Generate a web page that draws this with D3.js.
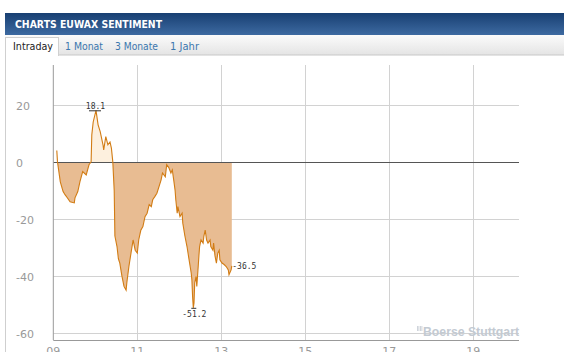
<!DOCTYPE html>
<html><head><meta charset="utf-8">
<script src="https://cdn.jsdelivr.net/npm/d3@7"></script>
<style>
html,body{margin:0;padding:0;background:#fff;overflow:hidden;}
svg{display:block;}
</style></head>
<body>
<svg id="c" width="564" height="352"></svg>
<script>
const title = "CHARTS EUWAX SENTIMENT";
const tabs = ["Intraday", "1 Monat", "3 Monate", "1 Jahr"];
const yTicks = [20, 0, -20, -40, -60];
const xTickLabels = ["09", "11", "13", "15", "17", "19"];
const times = ["09:05","09:06","09:10","09:14","09:17","09:20","09:24","09:30","09:31","09:35","09:38","09:42","09:47","09:51","09:54","09:55","09:57","10:01","10:04","10:07","10:11","10:12","10:15","10:18","10:21","10:23","10:25","10:27","10:28","10:31","10:33","10:35","10:38","10:41","10:44","10:45","10:48","10:51","10:54","10:57","11:00","11:02","11:05","11:08","11:11","11:14","11:17","11:20","11:22","11:25","11:28","11:31","11:34","11:36","11:40","11:42","11:45","11:48","11:50","11:52","11:54","11:55","11:57","11:58","12:01","12:04","12:05","12:08","12:11","12:14","12:17","12:18","12:19","12:20","12:21","12:22","12:24","12:25","12:27","12:28","12:29","12:31","12:34","12:35","12:37","12:39","12:41","12:44","12:45","12:48","12:49","12:51","12:53","12:55","12:57","12:58","13:01","13:04","13:07","13:10","13:11","13:14","13:15"];
const values = [4,0,-7,-10.4,-11.6,-12.6,-14,-14.4,-12.6,-10.4,-7,-3.4,-4.6,-1,0,9.5,14,18.1,13,10.6,6,4.2,8.9,6,7,4.8,0,-10,-26,-29.7,-34,-35.5,-40,-43.7,-45,-42.5,-36.7,-32,-27.4,-31,-32,-27.4,-24,-22.7,-19.2,-18,-15,-15.7,-13.3,-12.2,-11,-8.7,-6.3,-3.9,-5.2,-1,-2,-3.9,-2.8,-6.3,-10,-13.3,-18,-15.7,-19.2,-18,-21.5,-26,-29.7,-34.4,-39,-41.4,-47.3,-51.2,-49.5,-42.5,-40.2,-43.7,-36.7,-33,-29.7,-27.4,-28.5,-26.2,-23.9,-27.4,-28.5,-27.4,-29.7,-31,-28.5,-33,-35.5,-32,-31,-34.4,-35.5,-36,-36.7,-37.9,-39.6,-37.9,-36.5];
const annMax = 18.1, annMin = -51.2, annLast = -36.5;

const parse = d3.timeParse("%H:%M");
const data = times.map((t,i)=>({t:parse(t), v:values[i]}));

const svg = d3.select("#c");
const defs = svg.append("defs");
const g1 = defs.append("linearGradient").attr("id","hdr").attr("x1",0).attr("y1",0).attr("x2",0).attr("y2",1);
g1.append("stop").attr("offset","0").attr("stop-color","#183f72");
g1.append("stop").attr("offset","1").attr("stop-color","#3d6aa1");
const g2 = defs.append("linearGradient").attr("id","tab").attr("x1",0).attr("y1",0).attr("x2",0).attr("y2",1);
g2.append("stop").attr("offset","0").attr("stop-color","#fbfbfb");
g2.append("stop").attr("offset","1").attr("stop-color","#e4e4e4");

// header
svg.append("rect").attr("x",5).attr("y",13).attr("width",559).attr("height",22).attr("fill","url(#hdr)");
svg.append("text").attr("x",15).attr("y",28).attr("fill","#fff").attr("font-family","DejaVu Sans").attr("font-weight","bold")
  .attr("font-size",10).attr("textLength",147).attr("lengthAdjust","spacingAndGlyphs").text(title);
// tab bar
svg.append("rect").attr("x",5).attr("y",35).attr("width",559).attr("height",20).attr("fill","url(#tab)");
svg.append("line").attr("x1",5).attr("x2",564).attr("y1",55).attr("y2",55).attr("stroke","#c8c8c8");
svg.append("rect").attr("x",5.5).attr("y",37.5).attr("width",53).attr("height",18).attr("fill","#fff").attr("stroke","#d0d0d0");
svg.append("rect").attr("x",6).attr("y",54).attr("width",52).attr("height",3).attr("fill","#fff");
const tabX = [13, 65, 115, 170], tabW = [40, 38, 43, 29];
tabs.forEach((t,i)=>{
  svg.append("text").attr("x",tabX[i]).attr("y",50).attr("font-family","DejaVu Sans").attr("font-size",10)
    .attr("fill", i===0 ? "#222" : "#3b77ae").attr("textLength",tabW[i]).attr("lengthAdjust","spacingAndGlyphs").text(t);
});
svg.append("line").attr("x1",5.5).attr("x2",5.5).attr("y1",55).attr("y2",352).attr("stroke","#cfcfcf");

// scales
const L = 53.3, R = 519, T = 65, B = 340;
const x = d3.scaleTime().domain([parse("09:00"), parse("20:05")]).range([L, L + 42*11 + 3.5]);
const y = d3.scaleLinear().domain([-62.5, 34]).range([B, T]);

// grid
const hourTicks = xTickLabels.map(h=>parse(h+":00"));
svg.append("g").selectAll("line").data(hourTicks.slice(1)).join("line")
  .attr("x1",d=>Math.round(x(d))+0.5).attr("x2",d=>Math.round(x(d))+0.5).attr("y1",T).attr("y2",B)
  .attr("stroke","#d2d2d2");
svg.append("g").selectAll("line").data(yTicks.filter(v=>v!==0)).join("line")
  .attr("x1",L).attr("x2",R).attr("y1",d=>Math.round(y(d))+0.5).attr("y2",d=>Math.round(y(d))+0.5)
  .attr("stroke","#d2d2d2");

// areas
defs.append("clipPath").attr("id","pos").append("rect").attr("x",0).attr("y",0).attr("width",564).attr("height",y(0));
defs.append("clipPath").attr("id","neg").append("rect").attr("x",0).attr("y",y(0)).attr("width",564).attr("height",352);
const area = d3.area().x(d=>x(d.t)).y0(y(0)).y1(d=>y(d.v));
svg.append("path").datum(data).attr("d",area).attr("fill","#fdf0de").attr("clip-path","url(#pos)");
svg.append("path").datum(data).attr("d",area).attr("fill","#e8bc92").attr("clip-path","url(#neg)");

// zero line
svg.append("line").attr("x1",L).attr("x2",R).attr("y1",Math.round(y(0))+0.5).attr("y2",Math.round(y(0))+0.5)
  .attr("stroke","#555").attr("stroke-width",1);

// series line
svg.append("path").datum(data).attr("d", d3.line().x(d=>x(d.t)).y(d=>y(d.v)))
  .attr("fill","none").attr("stroke","#d27c14").attr("stroke-width",1.1);

// axes
svg.append("line").attr("x1",L).attr("x2",L).attr("y1",T).attr("y2",B).attr("stroke","#999");
svg.append("line").attr("x1",L).attr("x2",R).attr("y1",B+0.5).attr("y2",B+0.5).attr("stroke","#999");

svg.append("g").selectAll("text").data(yTicks).join("text")
  .attr("x",16).attr("y",d=>y(d)+5).attr("font-family","DejaVu Sans").attr("font-size",11).attr("fill","#999")
  .text(d=>d);
svg.append("g").selectAll("text").data(hourTicks).join("text")
  .attr("x",d=>x(d)).attr("y",355).attr("text-anchor","middle").attr("font-family","DejaVu Sans").attr("font-size",11).attr("fill","#999")
  .text((d,i)=>xTickLabels[i]);

// annotations
const mono = "DejaVu Sans Mono";
const iMax = values.indexOf(annMax), iMin = values.indexOf(annMin), iLast = values.length-1;
const pMax = data[iMax], pMin = data[iMin], pLast = data[iLast];
svg.append("line").attr("x1",x(pMax.t)-7).attr("x2",x(pMax.t)+5).attr("y1",y(pMax.v)+0.5).attr("y2",y(pMax.v)+0.5).attr("stroke","#333");
svg.append("text").attr("x",x(pMax.t)-0.5).attr("y",y(pMax.v)-1.5).attr("text-anchor","middle").attr("font-family",mono).attr("font-size",8).attr("fill","#333").text(annMax.toFixed(1));
svg.append("line").attr("x1",x(pMin.t)-2).attr("x2",x(pMin.t)+3).attr("y1",y(pMin.v)+0.5).attr("y2",y(pMin.v)+0.5).attr("stroke","#333");
svg.append("text").attr("x",x(pMin.t)+1).attr("y",y(pMin.v)+9).attr("text-anchor","middle").attr("font-family",mono).attr("font-size",8).attr("fill","#333").text(annMin.toFixed(1));
svg.append("text").attr("x",x(pLast.t)+0.5).attr("y",y(pLast.v)+3).attr("font-family",mono).attr("font-size",8).attr("fill","#333").text(annLast.toFixed(1));

// watermark
svg.append("g").selectAll("rect").data([0,1,2,3]).join("rect")
  .attr("x",d=>417+d*1.5).attr("y",326).attr("width",0.8).attr("height",5).attr("fill","#c3cad2");
svg.append("text").attr("x",423).attr("y",336).attr("font-family","Liberation Sans").attr("font-weight","bold").attr("font-size",12)
  .attr("fill","#c3cad2").attr("textLength",96).attr("lengthAdjust","spacingAndGlyphs").text("Boerse Stuttgart");
</script>
</body></html>
